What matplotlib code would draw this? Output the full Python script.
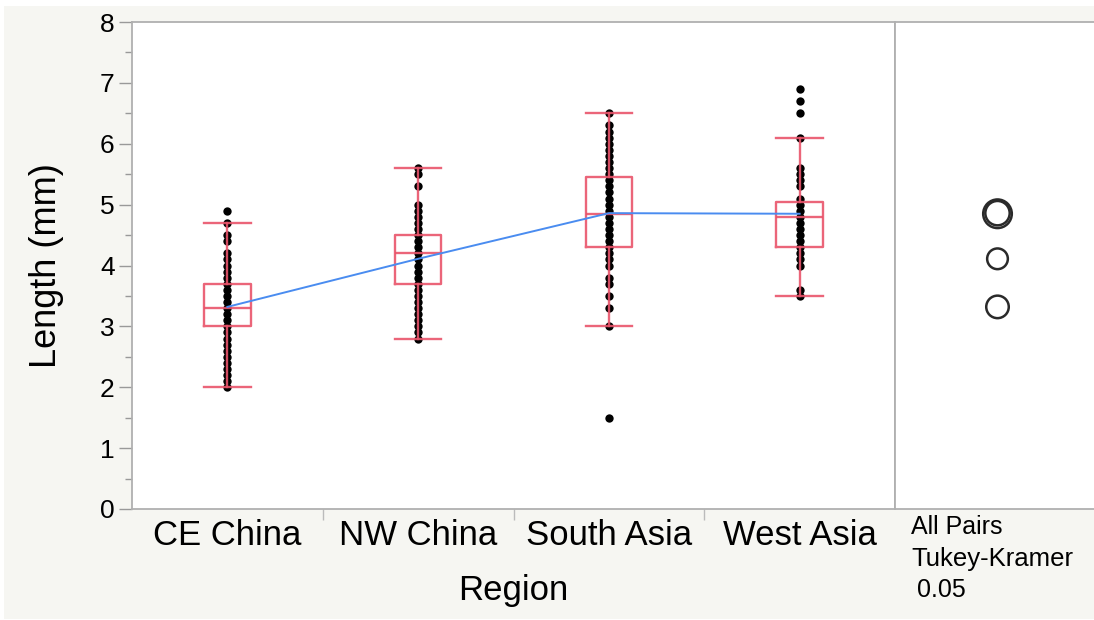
'''
Oneway plot of length by region with quantile boxes, connected means
and Tukey-Kramer comparison circles.
'''
import numpy as np
import matplotlib
matplotlib.use('Agg')
import matplotlib.pyplot as plt
from matplotlib.patches import Rectangle

plt.rcParams["font.family"] = ["Liberation Sans", "DejaVu Sans"]

# Categories
regions = ["CE China", "NW China", "South Asia", "West Asia"]

# Observed lengths (mm) per region
ce_china = [2.0, 2.1, 2.2, 2.3, 2.4, 2.5, 2.6, 2.7, 2.8, 2.9, 3.0, 3.1, 3.2,
            3.3, 3.4, 3.5, 3.6, 3.7, 3.8, 3.9, 4.0, 4.1, 4.2, 4.4, 4.5, 4.7, 4.9]
nw_china = [2.8, 2.9, 3.0, 3.1, 3.2, 3.3, 3.4, 3.5, 3.6, 3.7, 3.8, 3.9, 4.0,
            4.1, 4.2, 4.3, 4.4, 4.5, 4.6, 4.7, 4.8, 4.9, 5.0, 5.3, 5.5, 5.6]
south_asia = [1.5, 3.0, 3.3, 3.5, 3.7, 3.8, 4.0, 4.1, 4.2, 4.3, 4.4, 4.5, 4.6,
              4.7, 4.8, 4.9, 5.0, 5.1, 5.2, 5.3, 5.4, 5.5, 5.6, 5.7, 5.8, 5.9,
              6.0, 6.1, 6.2, 6.3, 6.5]
west_asia = [3.5, 3.6, 4.0, 4.1, 4.2, 4.3, 4.4, 4.5, 4.6, 4.7, 4.8, 4.9, 5.0,
             5.1, 5.3, 5.4, 5.5, 5.6, 6.1, 6.5, 6.7, 6.9]

# Quantile box summaries
whisker_low = [2.0, 2.8, 3.0, 3.5]
quart1 = [3.0, 3.7, 4.3, 4.3]
medians = [3.3, 4.2, 4.85, 4.8]
quart3 = [3.7, 4.5, 5.45, 5.05]
whisker_high = [4.7, 5.6, 6.5, 6.1]

# Group means and comparison circle radii (mm)
means = [3.32, 4.11, 4.86, 4.85]
circle_radius = [0.185, 0.17, 0.2, 0.235]

y_ticks = [0, 1, 2, 3, 4, 5, 6, 7, 8]

boxColor = "#e9546b"
meanColor = "#4a8cf0"
frameColor = "#b0b0b0"
W, H = 1094, 620

fig = plt.figure(figsize=(W/100., H/100.), dpi=100, facecolor="white")
fig.patches.append(Rectangle((4./W, 1./H), 1., 613./H, transform=fig.transFigure,
                             facecolor="#f6f6f2", edgecolor="none", zorder=-10))

ax0 = fig.add_axes([132./W, 1-509./H, 763./W, 487./H])
ax1 = fig.add_axes([895./W, 1-509./H, 205./W, 487./H])

# Data points
groups = [ce_china, nw_china, south_asia, west_asia]
for i, vals in enumerate(groups):
    ax0.scatter(np.full(len(vals), i), vals, s=36, color="k", linewidths=0, zorder=2)

# Quantile boxes
stats = []
for i in range(len(regions)):
    stats.append(dict(whislo=whisker_low[i], q1=quart1[i], med=medians[i],
                      q3=quart3[i], whishi=whisker_high[i], fliers=[]))
lineProps = dict(color=boxColor, linewidth=1.7, alpha=0.9)
ax0.bxp(stats, positions=range(len(regions)), widths=0.245, capwidths=0.245,
        showfliers=False, boxprops=lineProps, whiskerprops=lineProps,
        capprops=lineProps, medianprops=lineProps, manage_ticks=False, zorder=3)

# Connected means
ax0.plot(range(len(regions)), means, color=meanColor, linewidth=1.4, zorder=4)

# Limits and labels
ax0.set_xlim(-0.5, len(regions)-0.5)
ax0.set_ylim(0, 8)
ax0.set_yticks(y_ticks)
ax0.set_yticks(np.arange(0.5, 8, 1.), minor=True)
ax0.set_xticks(range(len(regions)))
ax0.set_xticklabels(regions, fontsize=25)
ax0.set_xticks([0.5, 1.5, 2.5], minor=True)
ax0.tick_params(axis="y", which="major", labelsize=19, length=9.5, width=1,
                color="#999999", pad=3)
ax0.tick_params(axis="y", which="minor", length=5, width=1, color="#999999")
ax0.tick_params(axis="x", which="major", length=0, pad=7)
ax0.tick_params(axis="x", which="minor", length=8, width=1, color="#bbbbbb")
ax0.set_xlabel("Region", fontsize=25, labelpad=16)
ax0.set_ylabel("Length (mm)", fontsize=26, labelpad=26)
for sp in ax0.spines.values():
    sp.set_color(frameColor)
    sp.set_linewidth(1.3)

# Comparison circles
ax1.set_xlim(0, 1)
ax1.set_ylim(0, 8)
pxPerUnit = ax1.transData.transform((0, 1))[1] - ax1.transData.transform((0, 0))[1]
sizes = [(2*r*pxPerUnit*72./fig.dpi)**2 for r in circle_radius]
ax1.scatter(np.full(len(means), 0.5), means, s=sizes, facecolors="none",
            edgecolors="#2a2a2a", linewidths=1.8, zorder=3)
ax1.set_xticks([])
ax1.set_yticks([])
for sp in ax1.spines.values():
    sp.set_color(frameColor)
    sp.set_linewidth(1.3)

fig.text(911./W, 1-527./H, "All Pairs", fontsize=18, va="center", ha="left")
fig.text(911./W, 1-559./H, "Tukey-Kramer", fontsize=18.5, va="center", ha="left")
fig.text(917./W, 1-590./H, "0.05", fontsize=18, va="center", ha="left")

plt.savefig("out.png", dpi=100)
plt.close()
